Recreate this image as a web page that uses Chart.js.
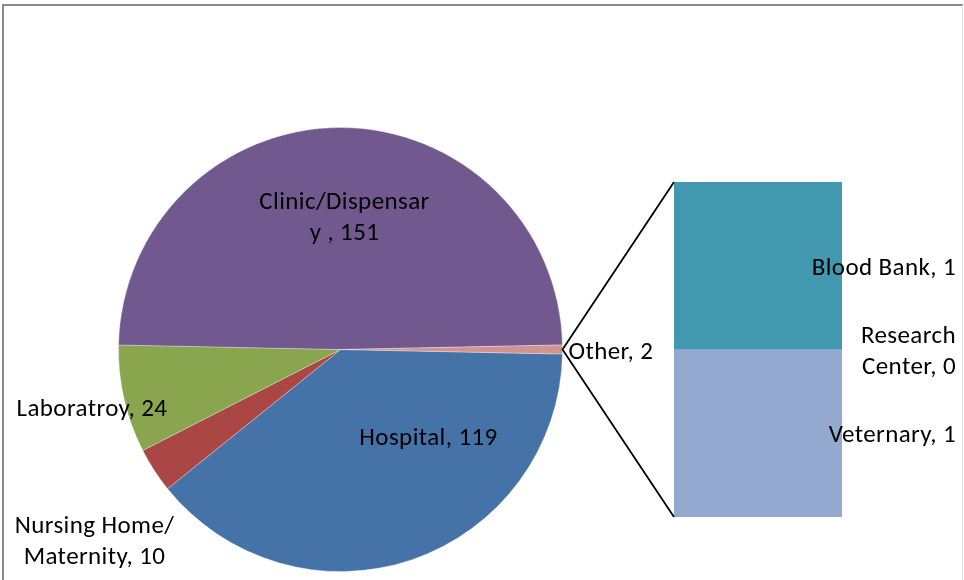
<!DOCTYPE html>
<html>
<head>
<meta charset="utf-8">
<script src="https://cdn.jsdelivr.net/npm/chart.js@4/dist/chart.umd.min.js"></script>
<style>
body{margin:0;background:#fff;}
#wrap{position:relative;width:964px;height:580px;overflow:hidden;}
#frame{position:absolute;left:2px;top:4px;width:958px;height:620px;border-top:2px solid #8a8a8a;border-left:2px solid #8a8a8a;border-right:1px solid #e2e2e2;}
canvas{position:absolute;left:0;top:0;}
</style>
</head>
<body>
<div id="wrap">
<div id="frame"></div>
<canvas id="pie-chart" width="964" height="580"></canvas>
<canvas id="bar-chart" width="964" height="580"></canvas>
</div>
<script>
// pie part
var pieLabels = ["Hospital", "Nursing Home/ Maternity", "Laboratroy", "Clinic/Dispensar y", "Other"];
var pieValues = [119, 10, 24, 151, 2];
// the "Other" slice broken out into the bar
var barLabels = ["Veternary", "Research Center", "Blood Bank"];
var barValues = [1, 0, 1];

var pieColors = ["#4572A7", "#AA4643", "#89A54E", "#71588F", "#D19392"];
var barColors = ["#93A9CF", "#4198AF", "#4198AF"];

var font = "25px Carlito, Calibri, Lato, sans-serif";
var spacing = "0.4px";
var lineH = 31;

// label text lines and where they sit relative to pie centre
var pieText = [
    {lines:["Hospital, 119"], dx:88, dy:95, align:"center"},
    {lines:["Nursing Home/", "Maternity, 10"], dx:-246, dy:183, align:"center"},
    {lines:["Laboratroy, 24"], dx:-324, dy:66, align:"left"},
    {lines:["Clinic/Dispensar", "y , 151"], dx:4, dy:-141, align:"center"},
    {lines:["Other, 2"], dx:228, dy:9, align:"left"}
];
var barText = [
    ["Veternary, 1"],
    ["Research", "Center, 0"],
    ["Blood Bank, 1"]
];

var total = pieValues.reduce(function(a, b){ return a + b }, 0);
var otherAngle = pieValues[pieValues.length - 1] / total * 360;

var pieLabelPlugin = {
    id: "pieLabels",
    afterDatasetsDraw: function(chart){
        var ctx = chart.ctx;
        var arc = chart.getDatasetMeta(0).data[0];
        ctx.save();
        ctx.font = font;
        ctx.letterSpacing = spacing;
        ctx.fillStyle = "#000";
        ctx.textBaseline = "alphabetic";
        pieText.forEach(function(t){
            ctx.textAlign = t.align;
            t.lines.forEach(function(s, i){
                ctx.fillText(s, arc.x + t.dx, arc.y + t.dy + i * lineH);
            });
        });
        ctx.restore();
    }
};

var pieChart = new Chart(document.getElementById("pie-chart"), {
    type: "pie",
    data: {
        labels: pieLabels,
        datasets: [{
            data: pieValues,
            backgroundColor: pieColors,
            borderColor: "rgba(255,255,255,0.3)",
            borderWidth: 1,
            hoverOffset: 0
        }]
    },
    options: {
        responsive: false,
        animation: false,
        rotation: 90 + otherAngle / 2,
        layout: {padding: {left: 118, top: 127, right: 401, bottom: 8}},
        plugins: {legend: {display: false}, tooltip: {enabled: false}}
    },
    plugins: [pieLabelPlugin]
});

var barExtras = {
    id: "barExtras",
    afterDatasetsDraw: function(chart){
        var ctx = chart.ctx;
        var area = chart.chartArea;
        // connector lines from the rim of the "Other" slice
        var other = pieChart.getDatasetMeta(0).data[pieValues.length - 1];
        var mid = (other.startAngle + other.endAngle) / 2;
        var px = other.x + other.outerRadius * Math.cos(mid);
        var py = other.y + other.outerRadius * Math.sin(mid);
        ctx.save();
        ctx.strokeStyle = "#000";
        ctx.lineWidth = 1.8;
        ctx.beginPath();
        ctx.moveTo(area.left, area.top);
        ctx.lineTo(px, py);
        ctx.lineTo(area.left, area.bottom);
        ctx.stroke();
        // labels, right aligned at the edge
        ctx.font = font;
        ctx.letterSpacing = spacing;
        ctx.fillStyle = "#000";
        ctx.textAlign = "right";
        ctx.textBaseline = "alphabetic";
        chart.data.datasets.forEach(function(ds, i){
            var el = chart.getDatasetMeta(i).data[0];
            var cy = (el.y + el.base) / 2;
            var lines = barText[i];
            var y0 = cy + 9 - (lines.length - 1) * lineH / 2;
            lines.forEach(function(s, j){
                ctx.fillText(s, chart.width - 8, y0 + j * lineH);
            });
        });
        ctx.restore();
    }
};

var barChart = new Chart(document.getElementById("bar-chart"), {
    type: "bar",
    data: {
        labels: ["Other"],
        datasets: barLabels.map(function(l, i){
            return {
                label: l,
                data: [barValues[i]],
                backgroundColor: barColors[i],
                borderWidth: 0,
                barPercentage: 1,
                categoryPercentage: 1
            }
        })
    },
    options: {
        responsive: false,
        animation: false,
        layout: {padding: {left: 674, top: 182, right: 122, bottom: 63}},
        scales: {
            x: {display: false, stacked: true},
            y: {display: false, stacked: true, min: 0, max: barValues.reduce(function(a, b){ return a + b }, 0)}
        },
        plugins: {legend: {display: false}, tooltip: {enabled: false}}
    },
    plugins: [barExtras]
});
</script>
</body>
</html>
